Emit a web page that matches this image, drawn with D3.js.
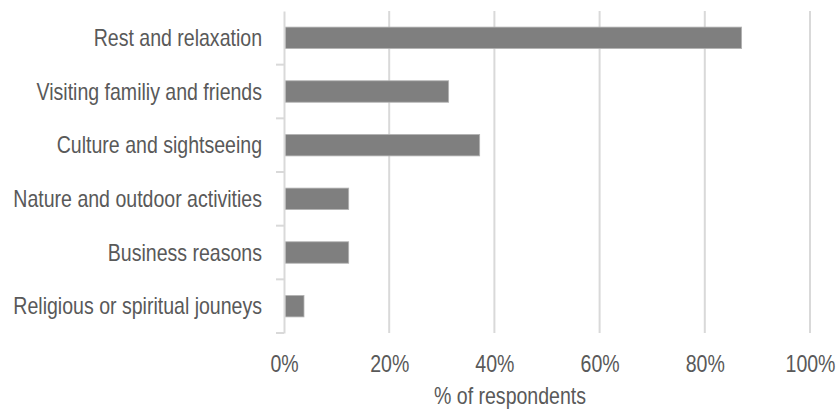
<!DOCTYPE html>
<html>
<head>
<meta charset="utf-8">
<script src="https://cdn.jsdelivr.net/npm/d3@7"></script>
<style>
  html, body { margin: 0; padding: 0; background: #fff; }
  svg text { font-family: "Liberation Sans", Arial, sans-serif; fill: #595959; }
</style>
</head>
<body>
<svg id="chart" width="838" height="413"></svg>
<script>
// Reasons for travel, share of respondents (%)
const categories = [
  "Rest and relaxation",
  "Visiting familiy and friends",
  "Culture and sightseeing",
  "Nature and outdoor activities",
  "Business reasons",
  "Religious or spiritual jouneys"
];
const values = [87, 31.3, 37.2, 12.3, 12.3, 3.8];
const xTicks = [0, 20, 40, 60, 80, 100];
const xTitle = "% of respondents";

// narrow face: regular sans squeezed horizontally
const NARROW = 0.85;
const FS = 23;
const svg = d3.select("#chart");
const margin = { left: 284, right: 28, top: 11, bottom: 80 };
const W = 838, H = 413;

const x = d3.scaleLinear().domain([0, 100]).range([margin.left, W - margin.right]);
const y = d3.scaleBand().domain(categories).range([margin.top, H - margin.bottom]).paddingInner(0.6).paddingOuter(0.3);

// vertical gridlines
svg.append("g").selectAll("line").data(xTicks.slice(1)).join("line")
  .attr("x1", d => x(d)).attr("x2", d => x(d))
  .attr("y1", margin.top).attr("y2", H - margin.bottom)
  .attr("stroke", "#d9d9d9").attr("stroke-width", 2);

// bars
svg.append("g").selectAll("rect").data(categories).join("rect")
  .attr("x", x(0) + 1)
  .attr("y", d => y(d))
  .attr("width", (d, i) => x(values[i]) - x(0) - 1)
  .attr("height", y.bandwidth())
  .attr("fill", "#7f7f7f")
  .attr("stroke", "#b3b3b3").attr("stroke-width", 0.8);

// category axis
const pad = 22;
const yAxis = d3.axisLeft(y).tickSize(0).tickPadding(pad);
const gy = svg.append("g").attr("transform", `translate(${x(0)},0)`).call(yAxis);
gy.select(".domain").attr("stroke", "#d9d9d9").attr("stroke-width", 2);
gy.selectAll("text")
  .attr("font-size", FS).attr("dy", "0.36em")
  .attr("x", -pad / NARROW)
  .attr("transform", `scale(${NARROW},1)`)
  .style("font-family", '"Liberation Sans", Arial, sans-serif').attr("fill", "#595959");

// tick marks at band boundaries
const bounds = categories.map(c => y(c) - y.step() * y.paddingInner() / 2).slice(1);
bounds.push(H - margin.bottom);
gy.append("g").selectAll("line").data(bounds).join("line")
  .attr("x1", -8).attr("x2", 0).attr("y1", d => d).attr("y2", d => d)
  .attr("stroke", "#d9d9d9").attr("stroke-width", 2);

// value axis
const xAxis = d3.axisBottom(x).tickValues(xTicks).tickFormat(d => d + "%").tickSize(0).tickPadding(23);
const gx = svg.append("g").attr("transform", `translate(0,${H - margin.bottom})`).call(xAxis);
gx.select(".domain").remove();
gx.selectAll("text")
  .attr("font-size", FS)
  .attr("transform", `scale(${NARROW},1)`)
  .style("font-family", '"Liberation Sans", Arial, sans-serif').attr("fill", "#595959");

// axis title
svg.append("text")
  .attr("transform", `translate(510,404) scale(${NARROW},1)`)
  .attr("text-anchor", "middle").attr("font-size", FS)
  .text(xTitle);
</script>
</body>
</html>
